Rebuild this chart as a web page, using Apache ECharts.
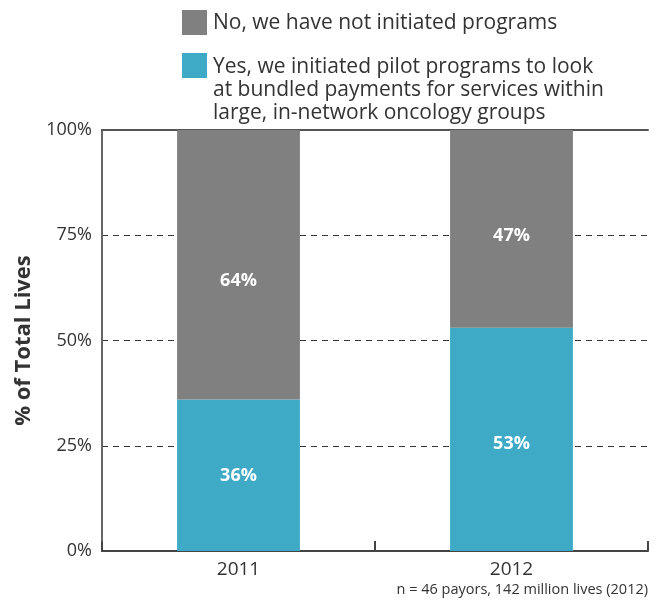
<!DOCTYPE html>
<html>
<head>
<meta charset="utf-8">
<script src="https://cdn.jsdelivr.net/npm/echarts@6/dist/echarts.min.js"></script>
<style>
  html, body { margin: 0; padding: 0; background: #fff; }
  #chart { width: 656px; height: 604px; }
</style>
</head>
<body>
<div id="chart"></div>
<script>
// Survey years on the category axis
var years = ['2011', '2012'];
// Share of total lives (%) per answer
var yesValues = [36, 53];
var noValues = [64, 47];
// Answer labels, shown in the legend block
var noName = 'No, we have not initiated programs';
var yesName = 'Yes, we initiated pilot programs to look\nat bundled payments for services within\nlarge, in-network oncology groups';
var yTicks = [0, 25, 50, 75, 100];
var footnote = 'n = 46 payors, 142 million lives (2012)';

// Vertical nudges (px) for the value labels inside each segment
var yesLabelShift = [1, 4];
var noLabelShift = [16, 7];

var GRAY = '#808080';
var TEAL = '#3EAAC6';
var TEXT = '#333333';
var FONT = '"Open Sans", "Noto Sans", sans-serif';

var chart = echarts.init(document.getElementById('chart'), null, { renderer: 'canvas' });

var labelStyle = {
  show: true,
  position: 'inside',
  formatter: '{c}%',
  color: '#ffffff',
  fontWeight: 'bold',
  fontSize: 18,
  fontFamily: FONT
};

function withShift(values, shifts) {
  return values.map(function (v, i) {
    return { value: v, label: { offset: [0, shifts[i]] } };
  });
}

chart.setOption({
  animation: false,
  grid: { left: 102, right: 8, top: 130, bottom: 53 },
  xAxis: [{
    type: 'category',
    data: years,
    axisLine: { lineStyle: { color: '#444', width: 2 } },
    axisTick: { show: true, inside: true, length: 10, lineStyle: { color: '#444', width: 2 } },
    axisLabel: { color: TEXT, fontSize: 19, fontFamily: FONT, margin: 9 },
    splitLine: { show: false }
  }, {
    type: 'category',
    data: years,
    position: 'top',
    axisLine: { lineStyle: { color: '#555', width: 2 } },
    axisTick: { show: false },
    axisLabel: { show: false }
  }],
  yAxis: {
    type: 'value',
    min: 0,
    max: 100,
    interval: 25,
    name: '% of Total Lives',
    nameLocation: 'middle',
    nameGap: 67,
    nameTextStyle: { color: TEXT, fontSize: 22, fontWeight: 'bold', fontFamily: FONT },
    axisLine: { show: true, lineStyle: { color: '#666', width: 2 } },
    axisTick: { show: false },
    axisLabel: {
      color: TEXT, fontSize: 18, fontFamily: FONT, margin: 10,
      padding: [4, 0, 0, 0],
      formatter: function (v) { return yTicks.indexOf(v) >= 0 ? v + '%' : ''; }
    },
    splitLine: {
      show: true,
      showMinLine: false,
      showMaxLine: false,
      lineStyle: { color: '#333', type: [6, 5], width: 1 }
    }
  },
  series: [{
    name: yesName,
    type: 'bar',
    stack: 'total',
    data: withShift(yesValues, yesLabelShift),
    barWidth: '45%',
    itemStyle: { color: TEAL },
    label: labelStyle
  }, {
    name: noName,
    type: 'bar',
    stack: 'total',
    data: withShift(noValues, noLabelShift),
    barWidth: '45%',
    itemStyle: { color: GRAY },
    label: labelStyle
  }],
  graphic: [
    { type: 'rect', left: 182, top: 10, shape: { width: 25, height: 25 }, style: { fill: GRAY } },
    { type: 'text', left: 213, top: 13, style: { text: noName, fill: TEXT, font: '21px ' + FONT } },
    { type: 'rect', left: 182, top: 53, shape: { width: 25, height: 25 }, style: { fill: TEAL } },
    { type: 'text', left: 213, top: 55, style: { text: yesName, fill: TEXT, font: '21px ' + FONT, lineHeight: 23.3 } },
    { type: 'text', right: 8, top: 582, style: { text: footnote, fill: TEXT, font: '14.5px ' + FONT } }
  ]
});
</script>
</body>
</html>
